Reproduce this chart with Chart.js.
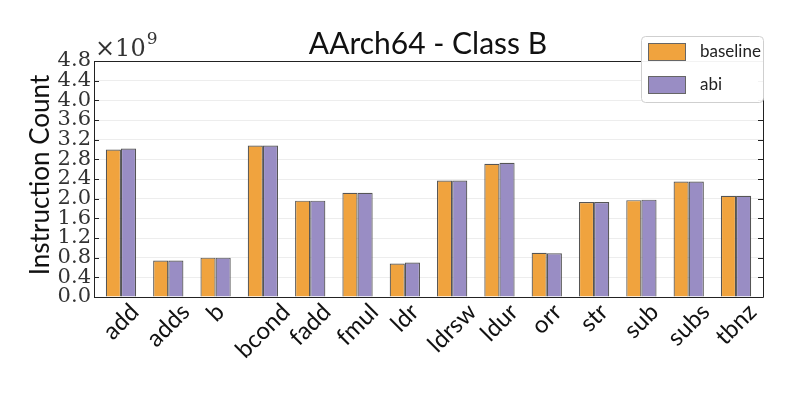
<!DOCTYPE html>
<html>
<head>
<meta charset="utf-8">
<script src="https://cdn.jsdelivr.net/npm/chart.js@4.4.1/dist/chart.umd.min.js"></script>
<style>
  body { margin: 0; background: #fff; }
  #wrap { width: 793px; height: 397px; }
</style>
</head>
<body>
<div id="wrap"><canvas id="chart" width="793" height="397"></canvas></div>
<script>
// AArch64 - Class B instruction counts (x 1e9)
const categories = ['add', 'adds', 'b', 'bcond', 'fadd', 'fmul', 'ldr', 'ldrsw', 'ldur', 'orr', 'str', 'sub', 'subs', 'tbnz'];
const baseline = [3.00, 0.74, 0.80, 3.08, 1.96, 2.12, 0.68, 2.37, 2.71, 0.90, 1.93, 1.97, 2.35, 2.06];
const abi      = [3.02, 0.74, 0.80, 3.08, 1.96, 2.12, 0.70, 2.37, 2.73, 0.89, 1.93, 1.98, 2.35, 2.06];
const yTicks = [0, 0.4, 0.8, 1.2, 1.6, 2.0, 2.4, 2.8, 3.2, 3.6, 4.0, 4.4, 4.8];

const sans = "Lato, 'DejaVu Sans', sans-serif";
const serif = "'DejaVu Serif', 'Liberation Serif', serif";

const extras = {
    id: 'extras',
    afterDraw(chart) {
        const ctx = chart.ctx;
        const a = chart.chartArea;
        const x = chart.scales.x;
        const y = chart.scales.y;
        ctx.save();

        // frame
        ctx.strokeStyle = '#222';
        ctx.lineWidth = 1;
        ctx.beginPath();
        ctx.moveTo(a.left + 0.5, a.bottom + 0.5);
        ctx.lineTo(a.left + 0.5, a.top + 0.5);
        ctx.lineTo(a.right + 0.5, a.top + 0.5);
        ctx.lineTo(a.right + 0.5, a.bottom + 0.5);
        ctx.lineTo(a.left + 0.5, a.bottom + 0.5);
        ctx.stroke();

        // inward ticks on both sides
        yTicks.forEach(v => {
            const py = Math.round(y.getPixelForValue(v)) + 0.5;
            ctx.beginPath();
            ctx.moveTo(a.left, py); ctx.lineTo(a.left + 5, py);
            ctx.moveTo(a.right, py); ctx.lineTo(a.right - 5, py);
            ctx.stroke();
        });

        // category labels, rotated 45 deg, centred under each tick
        ctx.font = '24px ' + sans;
        ctx.fillStyle = '#111';
        ctx.textAlign = 'center';
        ctx.textBaseline = 'middle';
        categories.forEach((c, i) => {
            const L = ctx.measureText(c).width;
            const h = 17;
            const half = (L + h) * 0.7071 / 2;
            ctx.save();
            ctx.translate(x.getPixelForValue(i), a.bottom + 5 + half);
            ctx.rotate(-Math.PI / 4);
            ctx.fillText(c, 0, 0);
            ctx.restore();
        });

        // title
        ctx.fillStyle = '#111';
        ctx.font = '30px ' + sans;
        ctx.textAlign = 'center';
        ctx.textBaseline = 'alphabetic';
        ctx.fillText('AArch64 - Class B', 428, 54);

        // exponent
        ctx.textAlign = 'left';
        ctx.fillStyle = '#333';
        ctx.font = '24px ' + serif;
        ctx.fillText('\u00d710', a.left + 1, 56);
        const w = ctx.measureText('\u00d710').width;
        ctx.font = '17px ' + serif;
        ctx.fillText('9', a.left + 2 + w, 44);

        // y title
        ctx.save();
        ctx.translate(49, (a.top + a.bottom) / 2 - 4);
        ctx.rotate(-Math.PI / 2);
        ctx.font = '26px ' + sans;
        ctx.fillStyle = '#111';
        ctx.textAlign = 'center';
        ctx.fillText('Instruction Count', 0, 0);
        ctx.restore();

        // legend
        const lx = 641, ly = 36, lw = 122, lh = 66;
        ctx.fillStyle = 'rgba(255,255,255,0.95)';
        ctx.strokeStyle = '#cfcfcf';
        ctx.beginPath();
        ctx.roundRect(lx + 0.5, ly + 0.5, lw, lh, 4);
        ctx.fill();
        ctx.stroke();
        ctx.font = '17px ' + sans;
        ctx.textBaseline = 'middle';
        chart.data.datasets.forEach((ds, i) => {
            const sy = ly + 7 + i * 33;
            ctx.fillStyle = ds.backgroundColor;
            ctx.fillRect(lx + 7.5, sy + 0.5, 37, 17);
            ctx.strokeStyle = '#666';
            ctx.strokeRect(lx + 7.5, sy + 0.5, 37, 17);
            ctx.fillStyle = '#222';
            ctx.fillText(ds.label, lx + 59, sy + 9);
        });
        ctx.restore();
    }
};

new Chart(document.getElementById('chart'), {
    type: 'bar',
    data: {
        datasets: [
            {
                label: 'baseline',
                data: baseline.map((v, i) => ({ x: i, y: v })),
                backgroundColor: 'rgb(240,163,62)',
                borderColor: 'rgba(55,55,55,0.85)',
                borderWidth: 1.2,
                borderSkipped: 'bottom'
            },
            {
                label: 'abi',
                data: abi.map((v, i) => ({ x: i, y: v })),
                backgroundColor: 'rgb(153,141,196)',
                borderColor: 'rgba(55,55,55,0.85)',
                borderWidth: 1.2,
                borderSkipped: 'bottom'
            }
        ]
    },
    options: {
        responsive: false,
        animation: false,
        layout: { padding: { top: 61, right: 30, left: 0, bottom: 0 } },
        datasets: { bar: { categoryPercentage: 0.64, barPercentage: 1.0 } },
        scales: {
            x: {
                type: 'linear',
                offset: false,
                min: -0.57,
                max: categories.length - 1 + 0.57,
                afterFit(scale) { scale.height = 100; },
                afterBuildTicks(scale) { scale.ticks = categories.map((c, i) => ({ value: i })); },
                grid: { display: false },
                border: { display: false },
                ticks: { display: false }
            },
            y: {
                min: 0,
                max: 4.8,
                afterFit(scale) { scale.width = 94; },
                afterBuildTicks(scale) { scale.ticks = yTicks.map(v => ({ value: v })); },
                border: { display: false },
                grid: { color: 'rgba(0,0,0,0.07)', drawTicks: false },
                ticks: {
                    color: '#333',
                    padding: 3,
                    autoSkip: false,
                    font: { family: serif, size: 21 },
                    callback: v => v.toFixed(1)
                }
            }
        },
        plugins: {
            legend: { display: false },
            tooltip: { enabled: false }
        }
    },
    plugins: [extras]
});
</script>
</body>
</html>
